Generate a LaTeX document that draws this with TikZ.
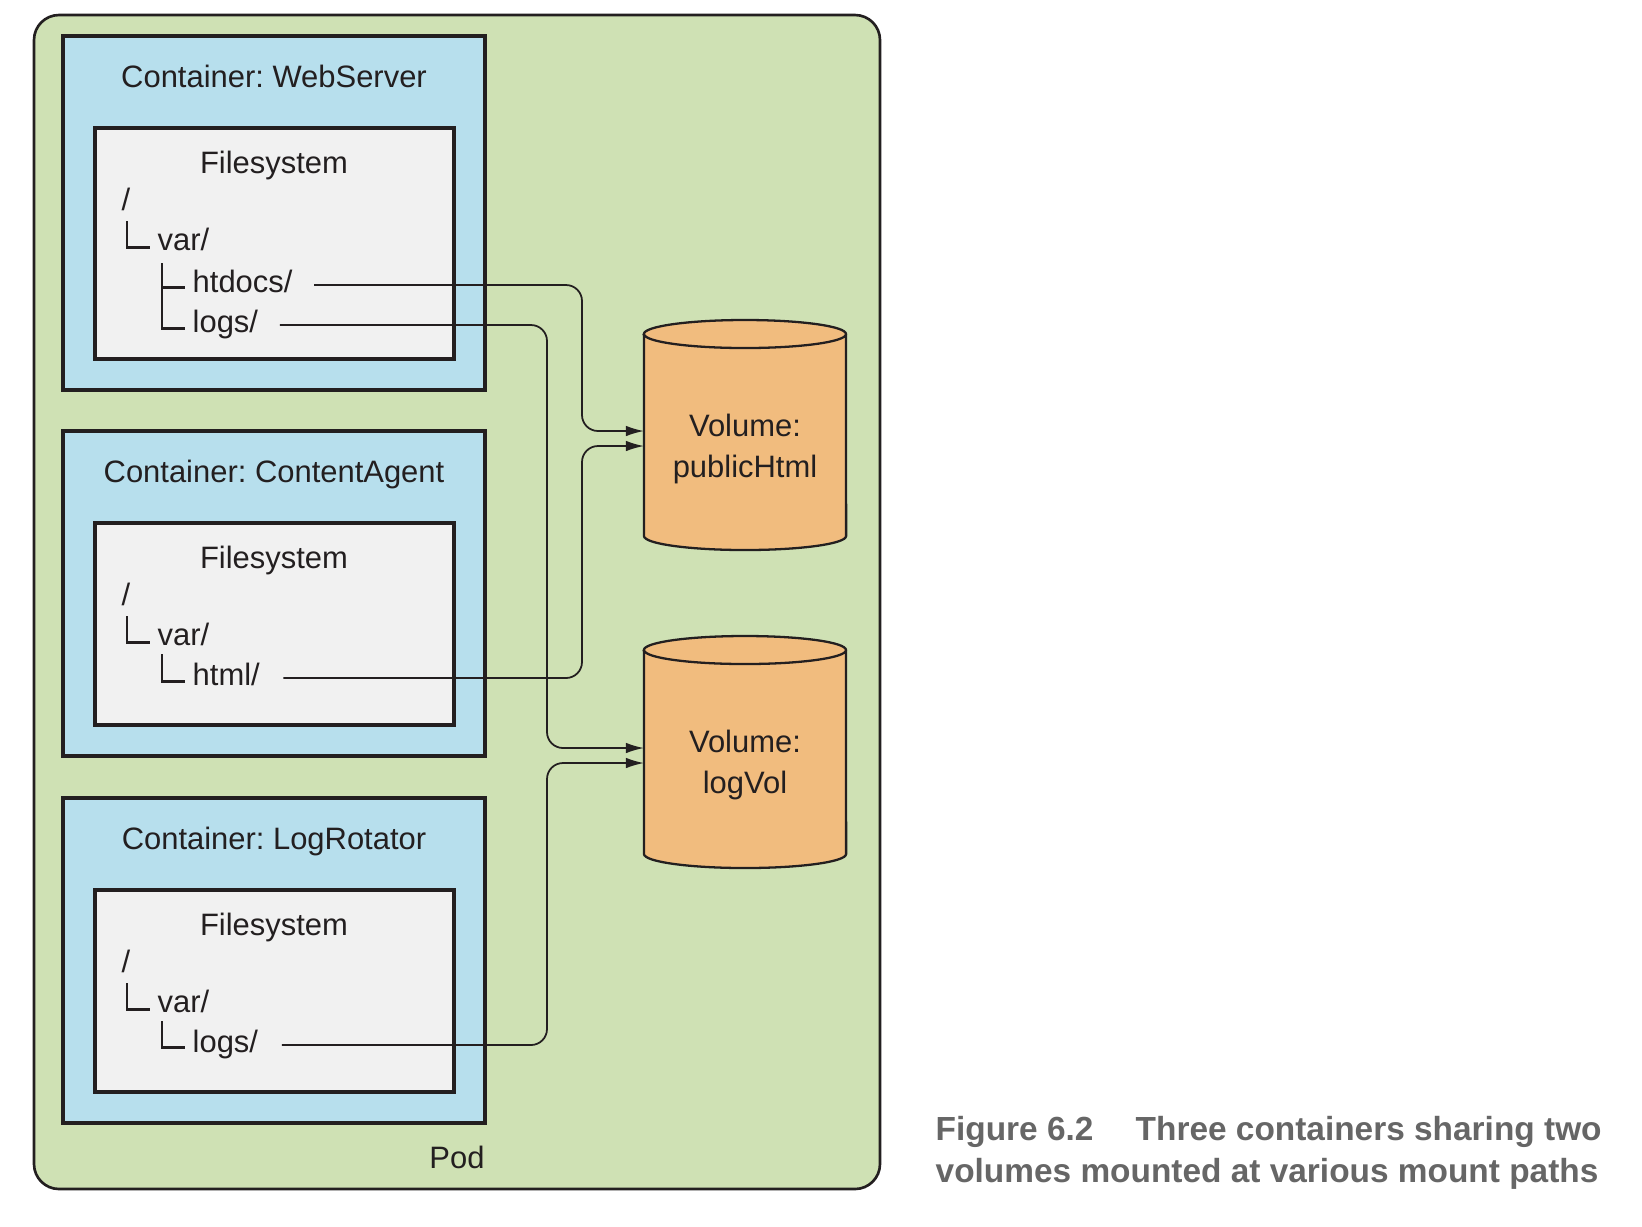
\documentclass[tikz,border=0pt]{standalone}
\usepackage{fontspec}
\setmainfont{Liberation Sans}
\frenchspacing
\usetikzlibrary{arrows.meta}
\definecolor{podgreen}{HTML}{CFE1B4}
\definecolor{boxblue}{HTML}{B7DFED}
\definecolor{fsgray}{HTML}{F1F1F1}
\definecolor{volorange}{HTML}{F1BC7E}
\definecolor{ink}{HTML}{231F20}
\definecolor{capgray}{HTML}{666666}
\tikzset{
    txt/.style={font=\fontsize{8.8}{11.4}\selectfont, text=ink, inner sep=0pt},
    podbox/.style={draw=ink, fill=podgreen, line width=0.75pt, rounded corners=2.5mm},
    contbox/.style={draw=ink, fill=boxblue, line width=0.9pt},
    fsbox/.style={draw=ink, fill=fsgray, line width=0.9pt},
    tree/.style={draw=ink, line width=0.85pt},
    drum/.style={draw=ink, fill=volorange, line width=0.65pt},
    link/.style={draw=ink, line width=0.5pt, rounded corners=1.6mm, -{Latex[length=1.8mm,width=1.05mm]}},
    figcap/.style={font=\fontsize{9.5}{12}\selectfont\bfseries, text=capgray, inner sep=0pt, anchor=base west}
}
% cylinder: centre x, top y, bottom y (pixel units, y down)
\newcommand{\drawdrum}[3]{
    \path[drum] (#1-101,#2+14) -- (#1-101,#3-14) arc[start angle=180,end angle=360,x radius=1.01cm,y radius=0.14cm]
        -- (#1+101,#2+14) arc[start angle=0,end angle=180,x radius=1.01cm,y radius=0.14cm] -- cycle;
    \draw[drum, fill=none] (#1-101,#2+14) arc[start angle=180,end angle=360,x radius=1.01cm,y radius=0.14cm];
}

\begin{document}
\begin{tikzpicture}[x=0.01cm,y=-0.01cm]
    \useasboundingbox (0,0) rectangle (1642,1226);

    \draw[podbox] (34,15) rectangle (880,1189);
    \node[txt, anchor=base] (podlbl) at (457,1168) {Pod};

    % containers
    \foreach \T/\H/\nm/\ttl in {36/354/web/WebServer, 431/325/agent/ContentAgent, 798/325/rot/LogRotator}{
        \draw[contbox] (63,\T) rectangle (485,\T+\H);
        \draw[fsbox] (95,\T+92) rectangle (454,\T+\H-31);
        \node[txt, anchor=base] (\nm-title) at (274,\T+51) {Container: \ttl};
        \node[txt, anchor=base] (\nm-fs) at (274,\T+137) {Filesystem};
        \node[txt, anchor=base west] (\nm-root) at (121,\T+174) {/};
        \node[txt, anchor=base west] (\nm-var) at (157,\T+214) {var/};
        \draw[tree] (127,\T+185) -- (127,\T+211) -- (150,\T+211);
    }

    \node[txt, anchor=base west] (htdocs) at (192,292) {htdocs/};
    \node[txt, anchor=base west] (weblogs) at (192,332) {logs/};
    \draw[tree] (162,263) -- (162,328) -- (185,328);
    \draw[tree] (162,287) -- (185,287);

    \node[txt, anchor=base west] (html) at (192,685) {html/};
    \draw[tree] (162,654) -- (162,681) -- (185,681);

    \node[txt, anchor=base west] (rotlogs) at (192,1052) {logs/};
    \draw[tree] (162,1021) -- (162,1047) -- (185,1047);

    % volumes
    \drawdrum{745}{320}{550}
    \drawdrum{745}{636}{868}
    \node[txt, align=center] (pub) at (745,449) {Volume:\\publicHtml};
    \node[txt, align=center] (logvol) at (745,765) {Volume:\\logVol};

    \coordinate (busR) at (582,0);
    \coordinate (busL) at (547,0);
    \coordinate (pubA) at (644,431);
    \coordinate (pubB) at (644,446);
    \coordinate (logA) at (644,748);
    \coordinate (logB) at (644,763);

    \draw[link] ([shift={(21,-7)}]htdocs.base east) -| (busR |- pubA) -- (pubA);
    \draw[link] ([shift={(21,-7)}]weblogs.base east) -| (busL |- logA) -- (logA);
    \draw[link] ([shift={(23,-7)}]html.base east) -| (busR |- pubB) -- (pubB);
    \draw[link] ([shift={(23,-7)}]rotlogs.base east) -| (busL |- logB) -- (logB);

    \node[figcap] (fignum) at (935,1140) {Figure 6.2};
    \node[figcap] (figtitle) at (1135,1140) {Three containers sharing two};
    \node[figcap] (figline) at (935,1182) {volumes mounted at various mount paths};
\end{tikzpicture}
\end{document}
